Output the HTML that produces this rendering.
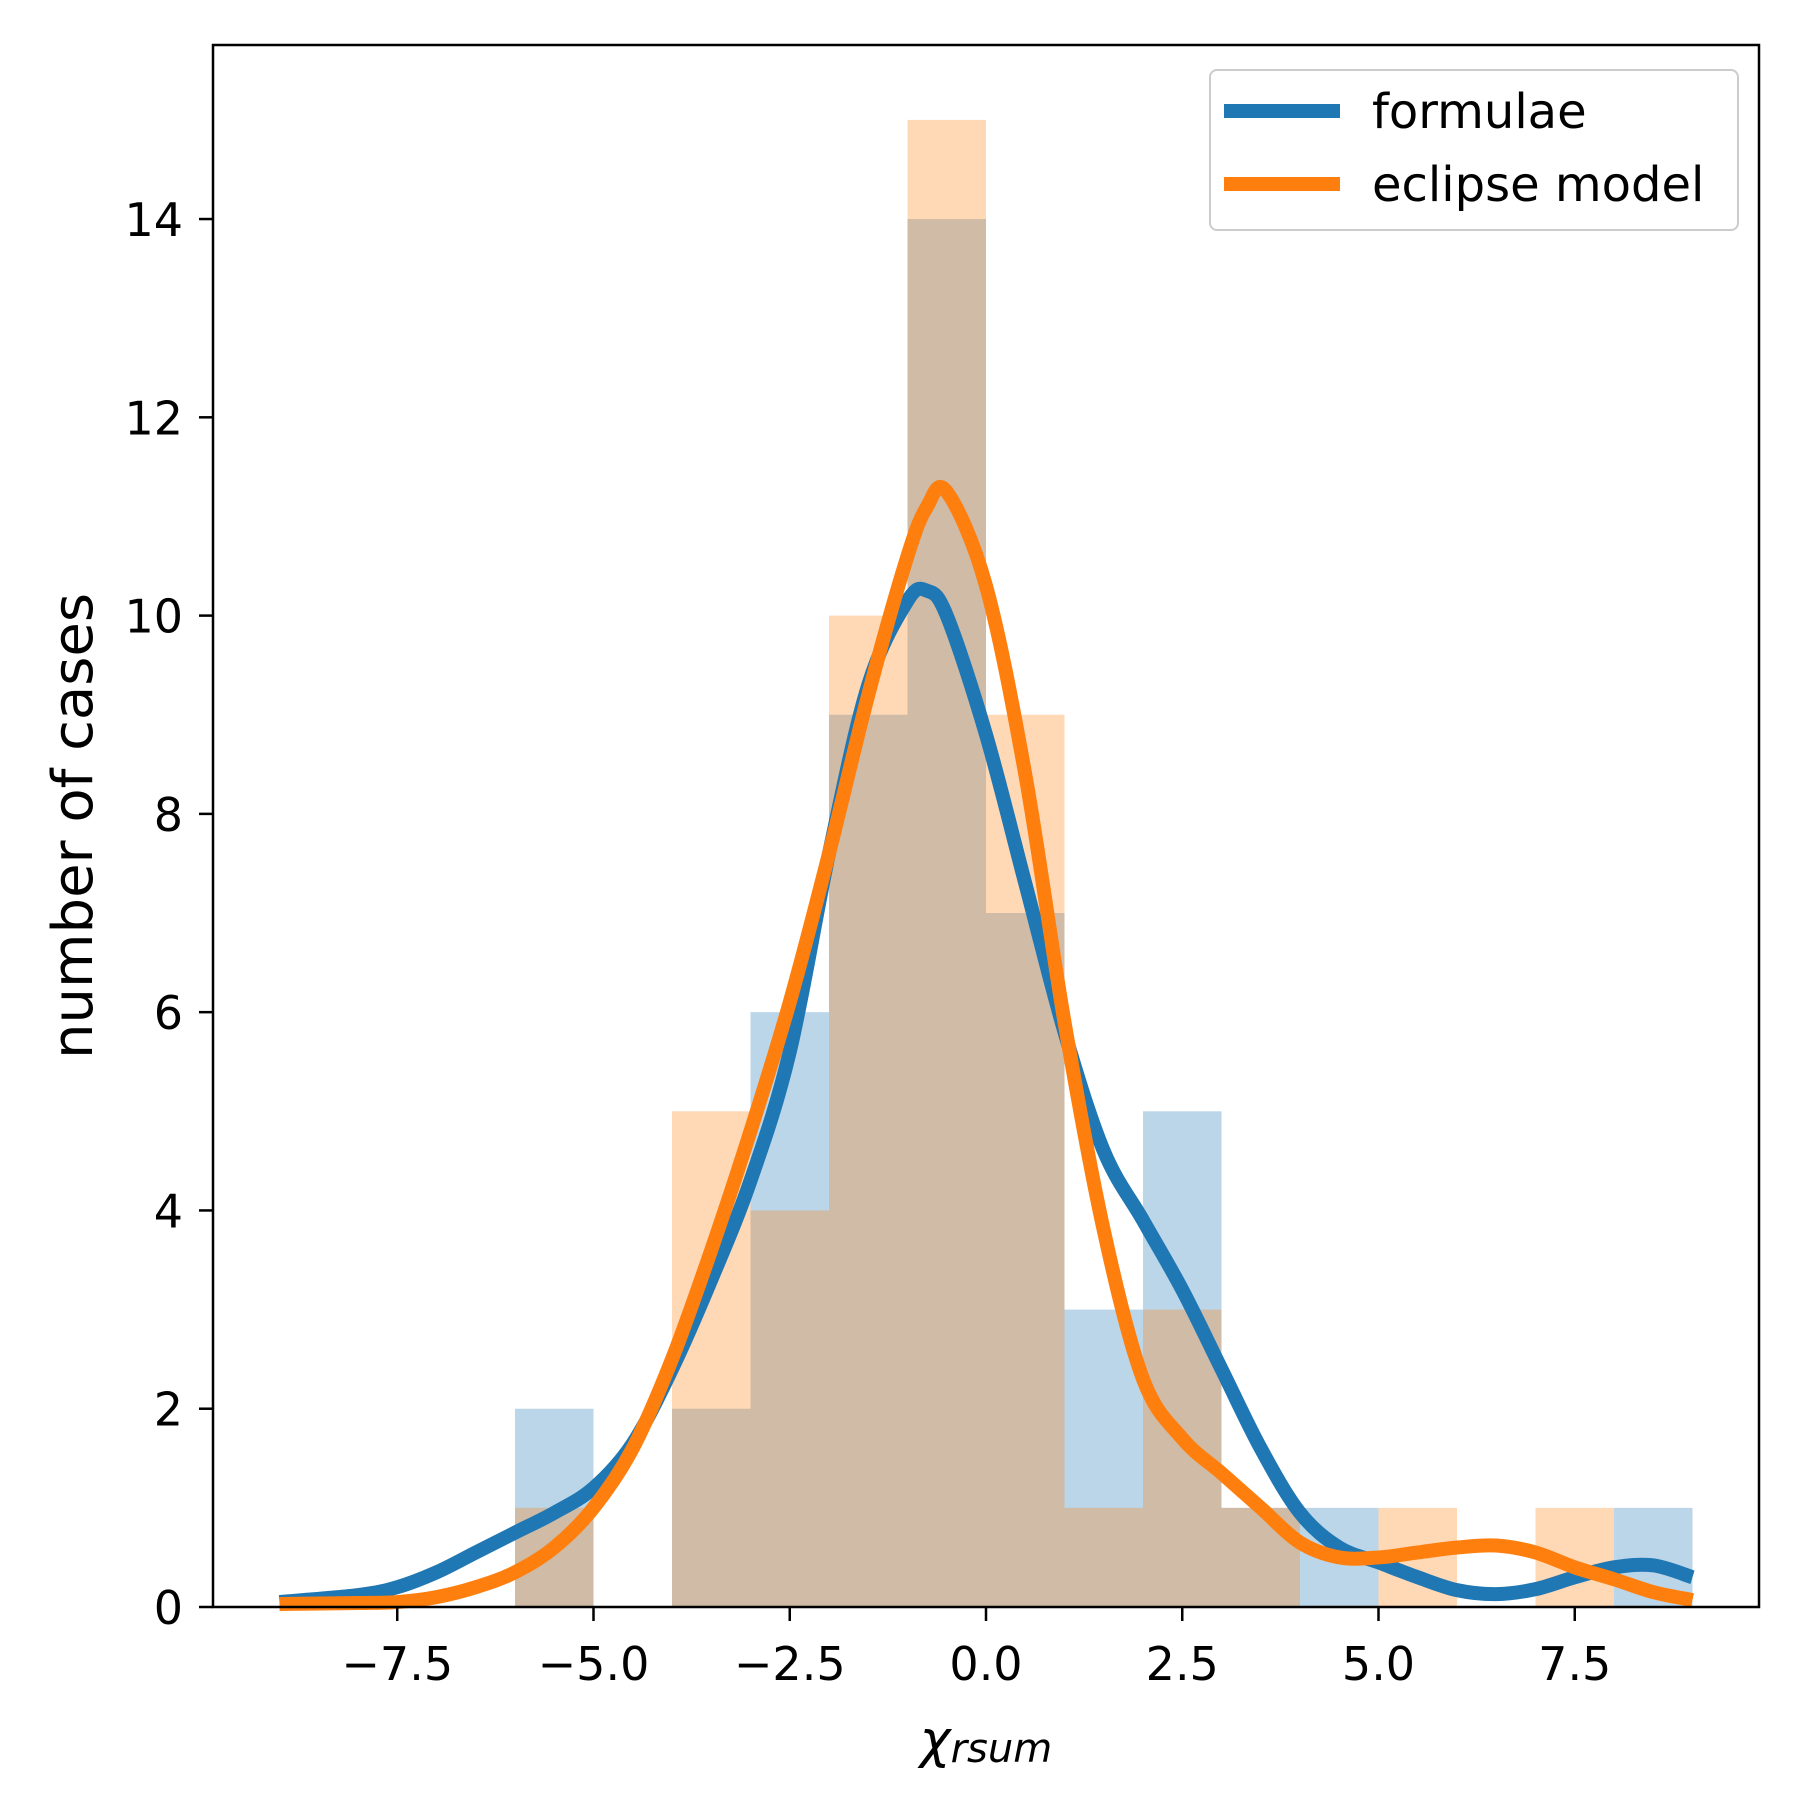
<!DOCTYPE html>
<html><head><meta charset="utf-8"><style>
html,body{margin:0;padding:0;background:#fff}
text{font-family:"DejaVu Sans","Liberation Sans",sans-serif}
</style></head><body>
<svg id="chart" width="1800" height="1800" viewBox="0 0 1800 1800" xmlns="http://www.w3.org/2000/svg">
<rect width="1800" height="1800" fill="#fff"/>
<g id="bars"></g>
<g id="curves"></g>
<g id="axes"></g>
<g>
<rect x="1210" y="70" width="528" height="160" rx="7" fill="#fff" fill-opacity="0.8" stroke="#ccc" stroke-width="2"/>
<line x1="1224" y1="111" x2="1340" y2="111" stroke="#1f77b4" stroke-width="14"/>
<text x="1372" y="128" font-size="48">formulae</text>
<line x1="1224" y1="184" x2="1340" y2="184" stroke="#ff7f0e" stroke-width="14"/>
<text x="1372" y="201" font-size="48">eclipse model</text>
</g>
<text x="986" y="1757" font-size="52" text-anchor="middle" font-style="italic">χ<tspan font-size="40" dy="5">rsum</tspan></text>
<text transform="translate(92,826) rotate(-90)" font-size="56" text-anchor="middle">number of cases</text>
</svg>
<script>
const binEdges=[-6,-5,-4,-3,-2,-1,0,1,2,3,4,5,6,7,8,9];
const formulaeCounts=[2,0,2,6,9,14,7,3,5,1,1,0,0,0,1];
const eclipseCounts=[1,0,5,4,10,15,9,1,3,1,0,1,0,1,0];
const kdeX=[-9,-8,-7.5,-7,-6.5,-6,-5.5,-5,-4.5,-4,-3.5,-3,-2.5,-2,-1.5,-1,-0.75,-0.5,0,0.5,1,1.5,2,2.5,3,3.5,4,4.5,5,5.5,6,6.5,7,7.5,8,8.5,9];
const formulaeKde=[0.05,0.12,0.2,0.35,0.55,0.75,0.95,1.2,1.65,2.4,3.3,4.3,5.6,7.6,9.3,10.15,10.25,10.0,8.8,7.3,5.8,4.6,3.9,3.2,2.4,1.6,0.95,0.6,0.45,0.3,0.17,0.13,0.18,0.3,0.4,0.42,0.3];
const eclipseKde=[0.03,0.04,0.05,0.1,0.2,0.35,0.6,1.0,1.6,2.5,3.6,4.8,6.1,7.6,9.2,10.6,11.1,11.25,10.3,8.4,5.9,3.8,2.3,1.7,1.35,1.0,0.65,0.5,0.5,0.55,0.6,0.62,0.55,0.4,0.28,0.15,0.07];
const xTicks=[-7.5,-5,-2.5,0,2.5,5,7.5];
const xTickLabels=["−7.5","−5.0","−2.5","0.0","2.5","5.0","7.5"];
const yTicks=[0,2,4,6,8,10,12,14];
const L=213,R=1759,T=45,B=1607;
const xs=v=>986+v*78.5;
const ys=v=>B-v*99.14;
const NS="http://www.w3.org/2000/svg";
function mk(tag,parent,attrs){const e=document.createElementNS(NS,tag);for(const k in attrs)e.setAttribute(k,attrs[k]);parent.appendChild(e);return e;}
const bars=document.getElementById('bars');
[[formulaeCounts,'#1f77b4','formulae'],[eclipseCounts,'#ff7f0e','eclipse']].forEach(([c,col,nm])=>{
 c.forEach((v,i)=>{if(!v)return;
  const r=mk('rect',bars,{x:xs(binEdges[i]),y:ys(v),width:xs(binEdges[i+1])-xs(binEdges[i]),height:ys(0)-ys(v),fill:col,'fill-opacity':0.3});
  
  
 });
});
function path(ys_){
 const p=kdeX.map((x,i)=>[xs(x),ys(ys_[i])]);
 let d='M'+p[0][0]+','+p[0][1];
 for(let i=0;i<p.length-1;i++){
  const p0=p[Math.max(0,i-1)],p1=p[i],p2=p[i+1],p3=p[Math.min(p.length-1,i+2)];
  d+=' C'+(p1[0]+(p2[0]-p0[0])/6)+','+(p1[1]+(p2[1]-p0[1])/6)+' '+(p2[0]-(p3[0]-p1[0])/6)+','+(p2[1]-(p3[1]-p1[1])/6)+' '+p2[0]+','+p2[1];
 }
 return d;
}
const curves=document.getElementById('curves');
const c1=mk('path',curves,{d:path(formulaeKde),fill:'none',stroke:'#1f77b4','stroke-width':14});


const c2=mk('path',curves,{d:path(eclipseKde),fill:'none',stroke:'#ff7f0e','stroke-width':14});


const ax=document.getElementById('axes');
const fr=mk('rect',ax,{x:L,y:T,width:R-L,height:B-T,fill:'none',stroke:'#000','stroke-width':2.5});


xTicks.forEach((t,i)=>{
 const l=mk('line',ax,{x1:xs(t),x2:xs(t),y1:B,y2:B+14,stroke:'#000','stroke-width':2.5});
 
 
 const tx=mk('text',ax,{x:xs(t),y:1680,'font-size':46,'text-anchor':'middle'});
 tx.textContent=xTickLabels[i];
 
 
});
yTicks.forEach(t=>{
 const l=mk('line',ax,{x1:L-14,x2:L,y1:ys(t),y2:ys(t),stroke:'#000','stroke-width':2.5});
 
 
 const tx=mk('text',ax,{x:L-30,y:ys(t)+17,'font-size':46,'text-anchor':'end'});
 tx.textContent=String(t);
 
 
});
</script>
</body></html>
